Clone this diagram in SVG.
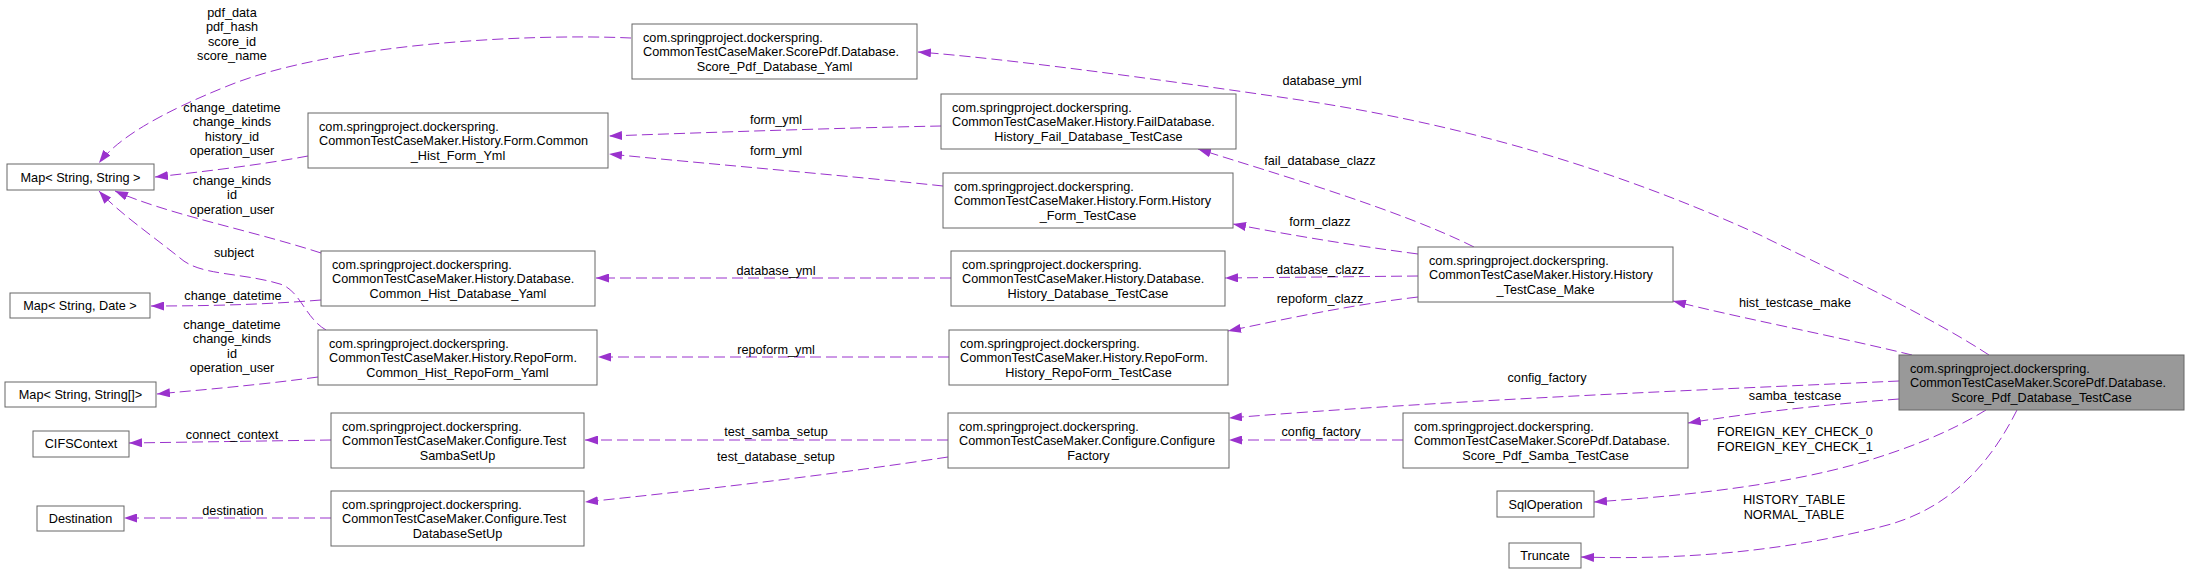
<svg xmlns="http://www.w3.org/2000/svg" width="2189" height="574" viewBox="0 0 2189 574">
<style>
.n rect{fill:#ffffff;stroke:#666666;stroke-width:1}
.main rect{fill:#999999}
text{font-family:"Liberation Sans",Arial,sans-serif;font-size:12.7px;fill:#000000}
.c{text-anchor:middle}
.e path{fill:none;stroke:#9a32cd;stroke-width:1;stroke-dasharray:11,5;marker-end:url(#arr)}
</style>
<defs>
<marker id="arr" viewBox="0 0 13 9" refX="13" refY="4.5" markerWidth="13" markerHeight="9" markerUnits="userSpaceOnUse" orient="auto">
<path d="M0,0 L13,4.5 L0,9 z" fill="#9a32cd" stroke="none"/>
</marker>
</defs>
<rect width="2189" height="574" fill="#ffffff"/>
<g id="edges" class="e">
<path d="M631,38 C520,33 330,45 230,85 C160,113 118,138 99,163"/>
<path d="M308,156 C260,165 200,172 155,177"/>
<path d="M321,253 C250,230 170,215 115,191"/>
<path d="M326,330 C305,318 300,290 280,284 C240,272 200,276 180,258 C150,234 118,212 99,191"/>
<path d="M321,300 C260,305 200,306 151,306"/>
<path d="M318,377 C260,385 200,390 157,394"/>
<path d="M941,126 C840,128 720,132 609,136"/>
<path d="M943,186 C840,175 720,165 609,154"/>
<path d="M951,278 L596,278"/>
<path d="M949,357 L598,357"/>
<path d="M948,440 L585,440"/>
<path d="M948,457 C830,475 700,490 585,502"/>
<path d="M331,440 L129,443"/>
<path d="M331,518 L124,518"/>
<path d="M1474,247 C1400,210 1280,175 1198,149"/>
<path d="M1418,254 C1350,245 1290,235 1233,224"/>
<path d="M1418,276 L1225,278"/>
<path d="M1418,297 C1350,305 1290,318 1228,331"/>
<path d="M1989,355 C1920,310 1820,265 1760,235 C1650,185 1500,130 1300,100 C1150,78 1000,58 918,52"/>
<path d="M1912,355 C1830,335 1740,318 1673,301"/>
<path d="M1899,381 C1700,390 1450,400 1229,418"/>
<path d="M1403,440 L1229,440"/>
<path d="M1899,399 C1820,405 1750,413 1688,423"/>
<path d="M1986,410 C1950,432 1910,448 1860,463 C1780,486 1680,496 1594,502"/>
<path d="M2017,410 C1992,460 1952,510 1880,527 C1780,552 1680,560 1581,557"/>
</g>
<g id="edge-labels" class="c">
<text x="232" y="16.5">pdf_data</text>
<text x="232" y="31">pdf_hash</text>
<text x="232" y="45.5">score_id</text>
<text x="232" y="60">score_name</text>
<text x="232" y="111.5">change_datetime</text>
<text x="232" y="126">change_kinds</text>
<text x="232" y="140.5">history_id</text>
<text x="232" y="155">operation_user</text>
<text x="232" y="184.5">change_kinds</text>
<text x="232" y="199">id</text>
<text x="232" y="213.5">operation_user</text>
<text x="234" y="257">subject</text>
<text x="233" y="300">change_datetime</text>
<text x="232" y="328.5">change_datetime</text>
<text x="232" y="343">change_kinds</text>
<text x="232" y="357.5">id</text>
<text x="232" y="372">operation_user</text>
<text x="232" y="439">connect_context</text>
<text x="233" y="515">destination</text>
<text x="776" y="124">form_yml</text>
<text x="776" y="155">form_yml</text>
<text x="776" y="275">database_yml</text>
<text x="776" y="353.5">repoform_yml</text>
<text x="776" y="436">test_samba_setup</text>
<text x="776" y="460.5">test_database_setup</text>
<text x="1320" y="164.5">fail_database_clazz</text>
<text x="1320" y="226">form_clazz</text>
<text x="1320" y="273.5">database_clazz</text>
<text x="1320" y="303">repoform_clazz</text>
<text x="1321" y="436">config_factory</text>
<text x="1322" y="84.5">database_yml</text>
<text x="1795" y="307">hist_testcase_make</text>
<text x="1547" y="381.5">config_factory</text>
<text x="1795" y="400">samba_testcase</text>
<text x="1795" y="436">FOREIGN_KEY_CHECK_0</text>
<text x="1795" y="450.5">FOREIGN_KEY_CHECK_1</text>
<text x="1794" y="504">HISTORY_TABLE</text>
<text x="1794" y="519">NORMAL_TABLE</text>
</g>
<g id="n-map-ss" class="n"><rect x="7" y="164" width="147" height="26"/><text class="c" x="80.5" y="181.5">Map&lt; String, String &gt;</text></g>
<g id="n-map-sd" class="n"><rect x="10" y="293" width="140" height="25"/><text class="c" x="80" y="310">Map&lt; String, Date &gt;</text></g>
<g id="n-map-sa" class="n"><rect x="5" y="382" width="151" height="25"/><text class="c" x="80.5" y="399">Map&lt; String, String[]&gt;</text></g>
<g id="n-cifs" class="n"><rect x="33" y="431" width="96" height="26"/><text class="c" x="81" y="448">CIFSContext</text></g>
<g id="n-dest" class="n"><rect x="37" y="506" width="87" height="25"/><text class="c" x="80.5" y="523">Destination</text></g>
<g id="n-form-yml" class="n"><rect x="308" y="113" width="300" height="55"/><text x="319" y="130.5">com.springproject.dockerspring.</text><text x="319" y="145">CommonTestCaseMaker.History.Form.Common</text><text class="c" x="458" y="159.5">_Hist_Form_Yml</text></g>
<g id="n-db-yaml" class="n"><rect x="321" y="251" width="274" height="55"/><text x="332" y="268.5">com.springproject.dockerspring.</text><text x="332" y="283">CommonTestCaseMaker.History.Database.</text><text class="c" x="458" y="297.5">Common_Hist_Database_Yaml</text></g>
<g id="n-repo-yaml" class="n"><rect x="318" y="330" width="279" height="55"/><text x="329" y="347.5">com.springproject.dockerspring.</text><text x="329" y="362">CommonTestCaseMaker.History.RepoForm.</text><text class="c" x="457.5" y="376.5">Common_Hist_RepoForm_Yaml</text></g>
<g id="n-samba-setup" class="n"><rect x="331" y="413" width="253" height="55"/><text x="342" y="430.5">com.springproject.dockerspring.</text><text x="342" y="445">CommonTestCaseMaker.Configure.Test</text><text class="c" x="457.5" y="459.5">SambaSetUp</text></g>
<g id="n-db-setup" class="n"><rect x="331" y="491" width="253" height="55"/><text x="342" y="508.5">com.springproject.dockerspring.</text><text x="342" y="523">CommonTestCaseMaker.Configure.Test</text><text class="c" x="457.5" y="537.5">DatabaseSetUp</text></g>
<g id="n-score-yaml" class="n"><rect x="632" y="24" width="285" height="55"/><text x="643" y="41.5">com.springproject.dockerspring.</text><text x="643" y="56">CommonTestCaseMaker.ScorePdf.Database.</text><text class="c" x="774.5" y="70.5">Score_Pdf_Database_Yaml</text></g>
<g id="n-fail-tc" class="n"><rect x="941" y="94" width="295" height="55"/><text x="952" y="111.5">com.springproject.dockerspring.</text><text x="952" y="126">CommonTestCaseMaker.History.FailDatabase.</text><text class="c" x="1088.5" y="140.5">History_Fail_Database_TestCase</text></g>
<g id="n-form-tc" class="n"><rect x="943" y="173" width="290" height="55"/><text x="954" y="190.5">com.springproject.dockerspring.</text><text x="954" y="205">CommonTestCaseMaker.History.Form.History</text><text class="c" x="1088" y="219.5">_Form_TestCase</text></g>
<g id="n-db-tc" class="n"><rect x="951" y="251" width="274" height="55"/><text x="962" y="268.5">com.springproject.dockerspring.</text><text x="962" y="283">CommonTestCaseMaker.History.Database.</text><text class="c" x="1088" y="297.5">History_Database_TestCase</text></g>
<g id="n-repo-tc" class="n"><rect x="949" y="330" width="279" height="55"/><text x="960" y="347.5">com.springproject.dockerspring.</text><text x="960" y="362">CommonTestCaseMaker.History.RepoForm.</text><text class="c" x="1088.5" y="376.5">History_RepoForm_TestCase</text></g>
<g id="n-factory" class="n"><rect x="948" y="413" width="281" height="55"/><text x="959" y="430.5">com.springproject.dockerspring.</text><text x="959" y="445">CommonTestCaseMaker.Configure.Configure</text><text class="c" x="1088.5" y="459.5">Factory</text></g>
<g id="n-make" class="n"><rect x="1418" y="247" width="255" height="55"/><text x="1429" y="264.5">com.springproject.dockerspring.</text><text x="1429" y="279">CommonTestCaseMaker.History.History</text><text class="c" x="1545.5" y="293.5">_TestCase_Make</text></g>
<g id="n-samba-tc" class="n"><rect x="1403" y="413" width="285" height="55"/><text x="1414" y="430.5">com.springproject.dockerspring.</text><text x="1414" y="445">CommonTestCaseMaker.ScorePdf.Database.</text><text class="c" x="1545.5" y="459.5">Score_Pdf_Samba_TestCase</text></g>
<g id="n-sql" class="n"><rect x="1497" y="491" width="97" height="26"/><text class="c" x="1545.5" y="508.5">SqlOperation</text></g>
<g id="n-truncate" class="n"><rect x="1509" y="543" width="72" height="25"/><text class="c" x="1545" y="560">Truncate</text></g>
<g id="n-main" class="n main"><rect x="1899" y="355" width="285" height="55"/><text x="1910" y="372.5">com.springproject.dockerspring.</text><text x="1910" y="387">CommonTestCaseMaker.ScorePdf.Database.</text><text class="c" x="2041.5" y="401.5">Score_Pdf_Database_TestCase</text></g>
</svg>
